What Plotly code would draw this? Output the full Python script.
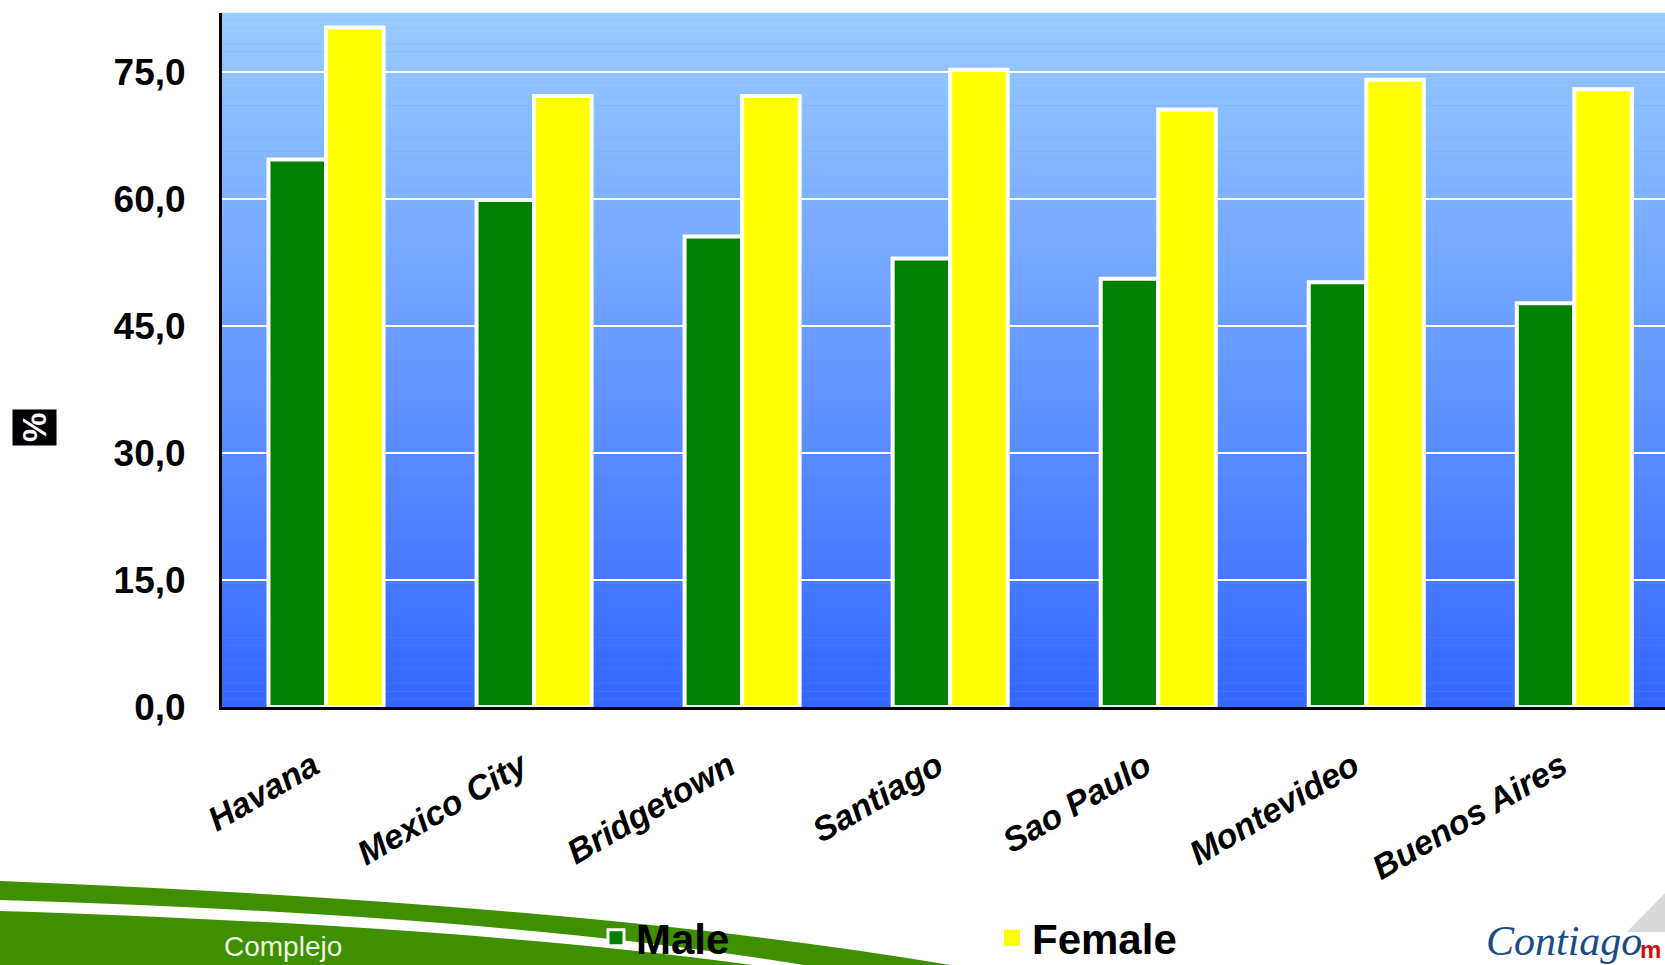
import plotly.graph_objects as go

# ---- data ----
cities = ["Havana", "Mexico City", "Bridgetown", "Santiago", "Sao Paulo", "Montevideo", "Buenos Aires"]
male = [64.7, 59.9, 55.6, 53.0, 50.6, 50.2, 47.7]
female = [80.3, 72.2, 72.2, 75.3, 70.6, 74.1, 73.0]
y_ticks = [0, 15, 30, 45, 60, 75]
series_names = ["Male", "Female"]

# ---- geometry (pixels) ----
W, H = 1665, 965
PL, PR, PT, PB = 222, 1665, 13, 707


def px(x):
    return (x - PL) / (PR - PL)


def py(y):
    return (PB - y) / (PB - PT)


GREEN = "#008000"
YELLOW = "#FFFF00"
FONT = "Liberation Sans, Arial, sans-serif"

fig = go.Figure()
fig.add_trace(go.Bar(x=cities, y=male, name=series_names[0], marker=dict(color=GREEN, line=dict(color="white", width=4)), showlegend=False))
fig.add_trace(go.Bar(x=cities, y=female, name=series_names[1], marker=dict(color=YELLOW, line=dict(color="white", width=4)), showlegend=False))
fig.add_trace(go.Scatter(x=[None], y=[None], mode="markers", name=series_names[0],
                         marker=dict(symbol="square", size=16, color=GREEN, line=dict(color="white", width=3))))
fig.add_trace(go.Scatter(x=[None], y=[None], mode="markers", name=series_names[1],
                         marker=dict(symbol="square", size=16, color=YELLOW, line=dict(color="white", width=0))))

shapes = []
N = 90
top = (153, 204, 255)
bot = (51, 102, 255)
for i in range(N):
    t = (i + 0.5) / N
    c = tuple(round(bot[k] + (top[k] - bot[k]) * t) for k in range(3))
    shapes.append(dict(type="rect", xref="paper", yref="paper", x0=0, x1=1,
                       y0=i / N, y1=(i + 1.02) / N, layer="below",
                       fillcolor="rgb(%d,%d,%d)" % c, line=dict(width=0)))


def P(x, y):
    return "%.5f,%.5f" % (px(x), py(y))


shapes.append(dict(type="path", xref="paper", yref="paper", layer="above",
                   path="M %s Q %s %s L %s L %s Z" % (P(0, 881), P(600, 905), P(956, 966), P(0, 966), P(0, 881)),
                   fillcolor="#3F9000", line=dict(width=0)))
shapes.append(dict(type="path", xref="paper", yref="paper", layer="above",
                   path="M %s Q %s %s L %s Q %s %s Z" % (P(0, 900), P(500, 915), P(810, 966), P(760, 966), P(470, 926), P(0, 911)),
                   fillcolor="white", line=dict(width=0)))
shapes.append(dict(type="path", xref="paper", yref="paper", layer="above",
                   path="M %s L %s L %s Z" % (P(1627, 932), P(1665, 893), P(1665, 932)),
                   fillcolor="#D9D9D9", line=dict(width=0)))

annotations = [
    dict(text="<b>%</b>", textangle=-90, x=px(35), y=py(428), xref="paper", yref="paper", xanchor="center", yanchor="middle",
         showarrow=False, bgcolor="black", borderpad=3, font=dict(family=FONT, size=33, color="white")),
    dict(text="Complejo", x=px(222), y=py(964), xref="paper", yref="paper", xanchor="left", yanchor="bottom",
         showarrow=False, font=dict(family=FONT, size=28, color="#EEF3E6")),
    dict(text="<i>Contiago</i>", x=px(1484), y=py(966), xref="paper", yref="paper", xanchor="left", yanchor="bottom",
         showarrow=False, font=dict(family="Liberation Serif, serif", size=42, color="#1B4C86")),
    dict(text="<b>m</b>", x=px(1638), y=py(965), xref="paper", yref="paper", xanchor="left", yanchor="bottom",
         showarrow=False, font=dict(family=FONT, size=24, color="#CC1010")),
]

fig.update_layout(
    width=W, height=H,
    margin=dict(l=PL, r=W - PR, t=PT, b=H - PB, pad=0, autoexpand=False),
    paper_bgcolor="white", plot_bgcolor="#6699FF",
    barmode="group", bargap=0.447, bargroupgap=0,
    font=dict(family=FONT, color="black"),
    shapes=shapes, annotations=annotations,
    showlegend=True,
    legend=dict(orientation="h", x=px(596), y=py(938), xanchor="left", yanchor="middle",
                entrywidth=351, entrywidthmode="pixels", bgcolor="rgba(0,0,0,0)",
                font=dict(family=FONT, size=42, color="black", weight="bold"), itemwidth=30),
    xaxis=dict(range=[-0.5, (PR - PL) / 208.05 - 0.5], showline=True, linecolor="black", linewidth=3,
               showgrid=False, ticks="", tickangle=-30, ticklabelstandoff=23, ticklabelshift=-13, automargin=False,
               tickfont=dict(family=FONT, size=34, color="black", weight="bold", style="italic")),
    yaxis=dict(range=[0, 82], tickvals=y_ticks, ticktext=[("%.1f" % v).replace(".", ",") for v in y_ticks],
               showline=True, linecolor="black", linewidth=3, showgrid=True, gridcolor="white", gridwidth=2,
               zeroline=False, ticks="", ticklabelstandoff=26, automargin=False,
               tickfont=dict(family=FONT, size=37, color="black", weight="bold")),
)

fig.write_html("out.html", config={"displayModeBar": False},
               post_script="document.body.style.margin='0';document.body.style.overflow='hidden';")
